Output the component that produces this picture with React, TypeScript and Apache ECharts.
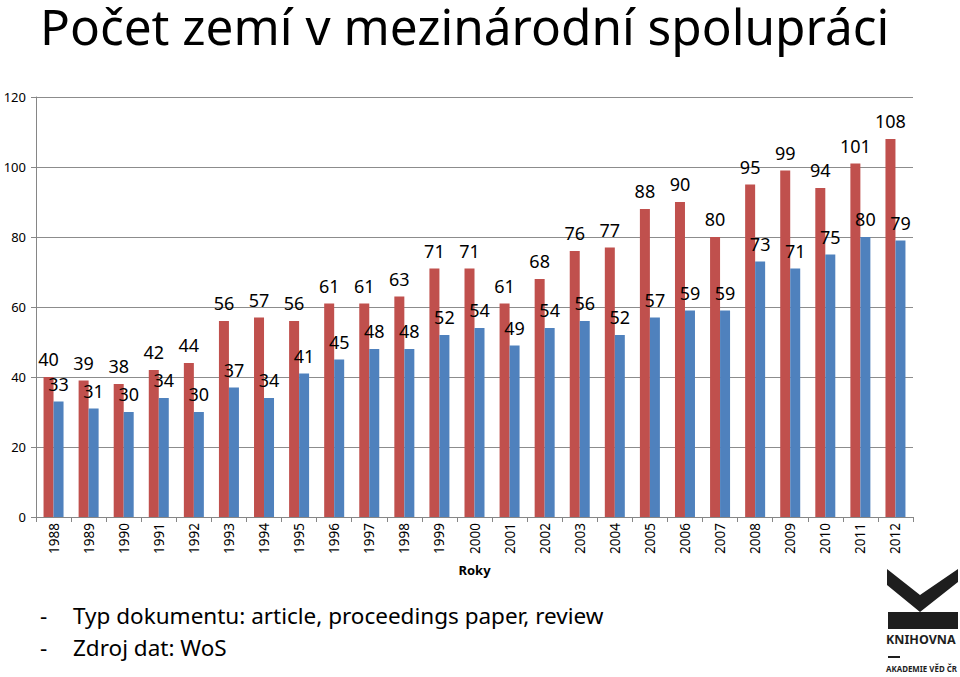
import React, { useEffect, useRef } from "react";
import * as echarts from "echarts";

const years = ["1988","1989","1990","1991","1992","1993","1994","1995","1996","1997","1998","1999","2000","2001","2002","2003","2004","2005","2006","2007","2008","2009","2010","2011","2012"];
const redValues = [40,39,38,42,44,56,57,56,61,61,63,71,71,61,68,76,77,88,90,80,95,99,94,101,108];
const blueValues = [33,31,30,34,30,37,34,41,45,48,48,52,54,49,54,56,52,57,59,59,73,71,75,80,79];
const yTicks = { min: 0, max: 120, interval: 20 };
const titleText = "Počet zemí v mezinárodní spolupráci";
const notes = ["Typ dokumentu: article, proceedings paper, review", "Zdroj dat: WoS"];
const axisName = "Roky";

const FONT = "'Noto Sans', 'Open Sans', sans-serif";

export default function App() {
  const ref = useRef<HTMLDivElement>(null);
  useEffect(() => {
    if (!ref.current) return;
    const chart = echarts.init(ref.current, undefined, { renderer: "svg" });
    const label = {
      show: true,
      position: "top" as const,
      color: "#000",
      fontSize: 18,
      fontFamily: FONT,
      distance: 9,
    };
    const noteStyle = { fontSize: 22.5, fontFamily: FONT, fill: "#000", verticalAlign: "middle" as const };
    chart.setOption({
      animation: false,
      backgroundColor: "#fff",
      textStyle: { fontFamily: FONT },
      grid: { left: 36, top: 97, width: 877, height: 420, containLabel: false },
      xAxis: {
        type: "category",
        data: years,
        name: axisName,
        nameLocation: "middle",
        nameGap: 46,
        nameTextStyle: { fontSize: 13, fontWeight: "bold", color: "#000", fontFamily: FONT },
        axisLine: { lineStyle: { color: "#868686", width: 1 } },
        axisTick: { show: true, length: 5, lineStyle: { color: "#868686" } },
        axisLabel: { rotate: 90, fontSize: 13.5, color: "#000", margin: 6, fontFamily: FONT },
      },
      yAxis: {
        type: "value",
        min: yTicks.min,
        max: yTicks.max,
        interval: yTicks.interval,
        axisLine: { show: true, lineStyle: { color: "#868686", width: 1 } },
        axisTick: { show: true, length: 5, lineStyle: { color: "#868686" } },
        axisLabel: { fontSize: 13, color: "#000", margin: 10, fontFamily: FONT },
        splitLine: { lineStyle: { color: "#8c8c8c", width: 1 } },
      },
      series: [
        {
          type: "bar",
          data: redValues,
          barWidth: 10,
          barGap: "0%",
          itemStyle: { color: "#C0504D" },
          label,
        },
        {
          type: "bar",
          data: blueValues,
          barWidth: 10,
          itemStyle: { color: "#4F81BD" },
          label,
        },
      ],
      graphic: [
        {
          type: "text",
          x: 40,
          y: 26,
          style: { text: titleText, fontSize: 49.5, lineHeight: 50, fontFamily: FONT, fill: "#000", verticalAlign: "middle" },
        },
        { type: "text", x: 40, y: 615, style: { ...noteStyle, text: "-" } },
        { type: "text", x: 73, y: 615, style: { ...noteStyle, text: notes[0] } },
        { type: "text", x: 40, y: 647, style: { ...noteStyle, text: "-" } },
        { type: "text", x: 73, y: 647, style: { ...noteStyle, text: notes[1] } },
        {
          type: "polygon",
          shape: { points: [[887, 569], [920, 595], [958, 569], [958, 582], [920, 612], [887, 585]] },
          style: { fill: "#1e1e1e" },
        },
        {
          type: "rect",
          shape: { x: 888, y: 612, width: 70, height: 17 },
          style: { fill: "#1e1e1e" },
        },
        {
          type: "text",
          x: 886,
          y: 633,
          style: { text: "KNIHOVNA", fontSize: 12.5, fontWeight: "bold", fontFamily: FONT, fill: "#1e1e1e" },
        },
        {
          type: "rect",
          shape: { x: 888, y: 656, width: 12, height: 2 },
          style: { fill: "#1e1e1e" },
        },
        {
          type: "text",
          x: 886,
          y: 665,
          style: { text: "AKADEMIE VĚD ČR", fontSize: 7.9, fontWeight: "bold", fontFamily: FONT, fill: "#1e1e1e" },
        },
      ],
    });
    return () => chart.dispose();
  }, []);
  return <div ref={ref} style={{ width: 960, height: 677, position: "absolute", left: 0, top: 0 }} />;
}
